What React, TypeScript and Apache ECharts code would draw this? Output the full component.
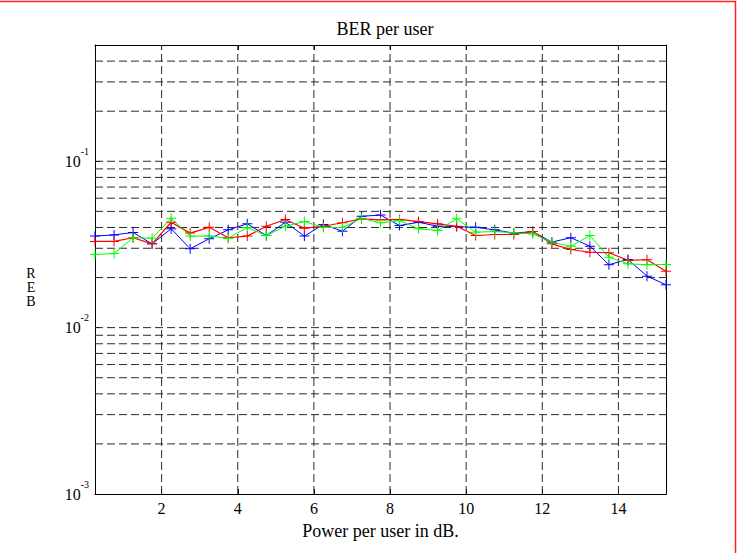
import React, { useEffect, useRef } from 'react';
import * as echarts from 'echarts';

const xValues = [0.25, 0.75, 1.25, 1.75, 2.25, 2.75, 3.25, 3.75, 4.25, 4.75, 5.25, 5.75, 6.25, 6.75, 7.25, 7.75, 8.25, 8.75, 9.25, 9.75, 10.25, 10.75, 11.25, 11.75, 12.25, 12.75, 13.25, 13.75, 14.25, 14.75, 15.25];
const blueBER = [0.0355, 0.0361, 0.0373, 0.0319, 0.0393, 0.0298, 0.0342, 0.0387, 0.0421, 0.0358, 0.0430, 0.0355, 0.0417, 0.0380, 0.0467, 0.0475, 0.0411, 0.0430, 0.0407, 0.0405, 0.0401, 0.0387, 0.0370, 0.0378, 0.0327, 0.0347, 0.0309, 0.0239, 0.0257, 0.0204, 0.0181];
const redBER = [0.0330, 0.0330, 0.0347, 0.0319, 0.0430, 0.0370, 0.0401, 0.0347, 0.0355, 0.0407, 0.0447, 0.0396, 0.0407, 0.0427, 0.0451, 0.0445, 0.0447, 0.0434, 0.0421, 0.0407, 0.0358, 0.0363, 0.0363, 0.0378, 0.0319, 0.0295, 0.0284, 0.0282, 0.0254, 0.0256, 0.0218];
const greenBER = [0.0275, 0.0279, 0.0347, 0.0345, 0.0454, 0.0355, 0.0355, 0.0345, 0.0400, 0.0358, 0.0407, 0.0434, 0.0400, 0.0400, 0.0454, 0.0427, 0.0440, 0.0393, 0.0384, 0.0451, 0.0375, 0.0378, 0.0372, 0.0366, 0.0327, 0.0308, 0.0358, 0.0265, 0.0242, 0.0239, 0.0240];
const xTickValues = [2, 4, 6, 8, 10, 12, 14];
const yGridValues = [0.002, 0.003, 0.004, 0.005, 0.006, 0.007, 0.008, 0.009, 0.01, 0.02, 0.03, 0.04, 0.05, 0.06, 0.07, 0.08, 0.09, 0.1, 0.2, 0.3, 0.4];
const yMin = 0.001;
const yMax = 0.5;
const xMin = 0.25;
const xMax = 15.25;

const FONT = "'Liberation Serif', 'Times New Roman', serif";
const PLUS = 'path://M4.5,0 L5.5,0 L5.5,4.5 L10,4.5 L10,5.5 L5.5,5.5 L5.5,10 L4.5,10 L4.5,5.5 L0,5.5 L0,4.5 L4.5,4.5 Z';

function pairs(ys: number[]) {
  return xValues.map((x, i) => [x, ys[i]]);
}

export default function App() {
  const ref = useRef<HTMLDivElement>(null);
  useEffect(() => {
    if (!ref.current) return;
    const chart = echarts.init(ref.current, undefined, { renderer: 'svg' });
    const gridLine = { color: '#2a2a2a', width: 1, type: [8, 4] as number[] };
    const axisLineStyle = { lineStyle: { color: '#000', width: 1 } };
    const hGrid: any[] = [];
    yGridValues.forEach((v) => {
      hGrid.push([xMin, v], [xMax, v], [xMax, '-']);
    });
    const vGrid: any[] = [];
    xTickValues.forEach((x) => {
      vGrid.push([x, yMin], [x, yMax], [x, '-']);
    });
    const gridSeries = (name: string, data: any[]) => ({
      name,
      type: 'line',
      data,
      symbol: 'none',
      silent: true,
      connectNulls: false,
      lineStyle: gridLine,
      z: 1,
    });
    const mkSeries = (name: string, color: string, ys: number[], w: number) => ({
      name,
      type: 'line',
      data: pairs(ys),
      symbol: PLUS,
      symbolSize: 10,
      showSymbol: true,
      itemStyle: { color },
      lineStyle: { color, width: w },
      z: 3,
    });
    chart.setOption({
      animation: false,
      backgroundColor: '#fff',
      title: {
        text: 'BER per user',
        left: 380,
        top: 15,
        textAlign: 'center',
        textStyle: { fontFamily: FONT, fontSize: 18, fontWeight: 'normal', color: '#000' },
      },
      grid: { left: 95, top: 45, width: 571, height: 449, containLabel: false },
      xAxis: [
        {
          type: 'value',
          min: xMin,
          max: xMax,
          position: 'bottom',
          axisLine: { ...axisLineStyle, onZero: false },
          axisTick: { inside: true, length: 5, customValues: xTickValues, lineStyle: { color: '#000' } },
          axisLabel: { customValues: xTickValues, margin: 6, fontFamily: FONT, fontSize: 16, color: '#000' },
          splitLine: { show: false },
          name: 'Power per user in dB.',
          nameLocation: 'middle',
          nameGap: 28,
          nameTextStyle: { fontFamily: FONT, fontSize: 18, color: '#000' },
        },
        {
          type: 'value',
          min: xMin,
          max: xMax,
          position: 'top',
          axisLine: { ...axisLineStyle, onZero: false },
          axisTick: { inside: true, length: 5, customValues: xTickValues, lineStyle: { color: '#000' } },
          axisLabel: { show: false },
          splitLine: { show: false },
        },
      ],
      yAxis: [
        {
          type: 'log',
          logBase: 10,
          min: yMin,
          max: yMax,
          position: 'left',
          axisLine: { ...axisLineStyle, onZero: false },
          axisTick: { inside: true, length: 5, lineStyle: { color: '#000' } },
          splitLine: { show: false },
          axisLabel: {
            margin: 6,
            color: '#000',
            formatter: (v: number) => {
              const l = Math.log10(v);
              const e = Math.round(l);
              if (Math.abs(l - e) > 1e-6) return '';
              return `{b|10}{s|${e}}`;
            },
            rich: {
              b: { fontFamily: FONT, fontSize: 16, lineHeight: 30, verticalAlign: 'middle', color: '#000' },
              s: { fontFamily: FONT, fontSize: 10, lineHeight: 10, verticalAlign: 'top', color: '#000' },
            },
          },
        },
        {
          type: 'log',
          logBase: 10,
          min: yMin,
          max: yMax,
          position: 'right',
          axisLine: { ...axisLineStyle, onZero: false },
          axisTick: { inside: true, length: 5, lineStyle: { color: '#000' } },
          axisLabel: { show: false },
          splitLine: { show: false },
        },
      ],
      graphic: [
        {
          type: 'text',
          x: 31,
          y: 287,
          style: {
            text: 'R\nE\nB',
            fontFamily: FONT,
            fontSize: 14,
            lineHeight: 14,
            fill: '#000',
            textAlign: 'center',
            textVerticalAlign: 'middle',
          },
        },
        {
          type: 'rect',
          shape: { x: -5, y: 1.5, width: 740.5, height: 600 },
          style: { fill: 'none', stroke: '#ff2020', lineWidth: 1.5 },
          silent: true,
        },
      ],
      series: [
        gridSeries('hgrid', hGrid),
        gridSeries('vgrid', vGrid),
        mkSeries('user 1', '#0000ff', blueBER, 1),
        mkSeries('user 2', '#ff0000', redBER, 1.2),
        mkSeries('user 3', '#00ff00', greenBER, 1),
      ],
    });
    return () => chart.dispose();
  }, []);
  return <div ref={ref} style={{ position: 'fixed', left: 0, top: 0, width: 737, height: 553 }} />;
}
